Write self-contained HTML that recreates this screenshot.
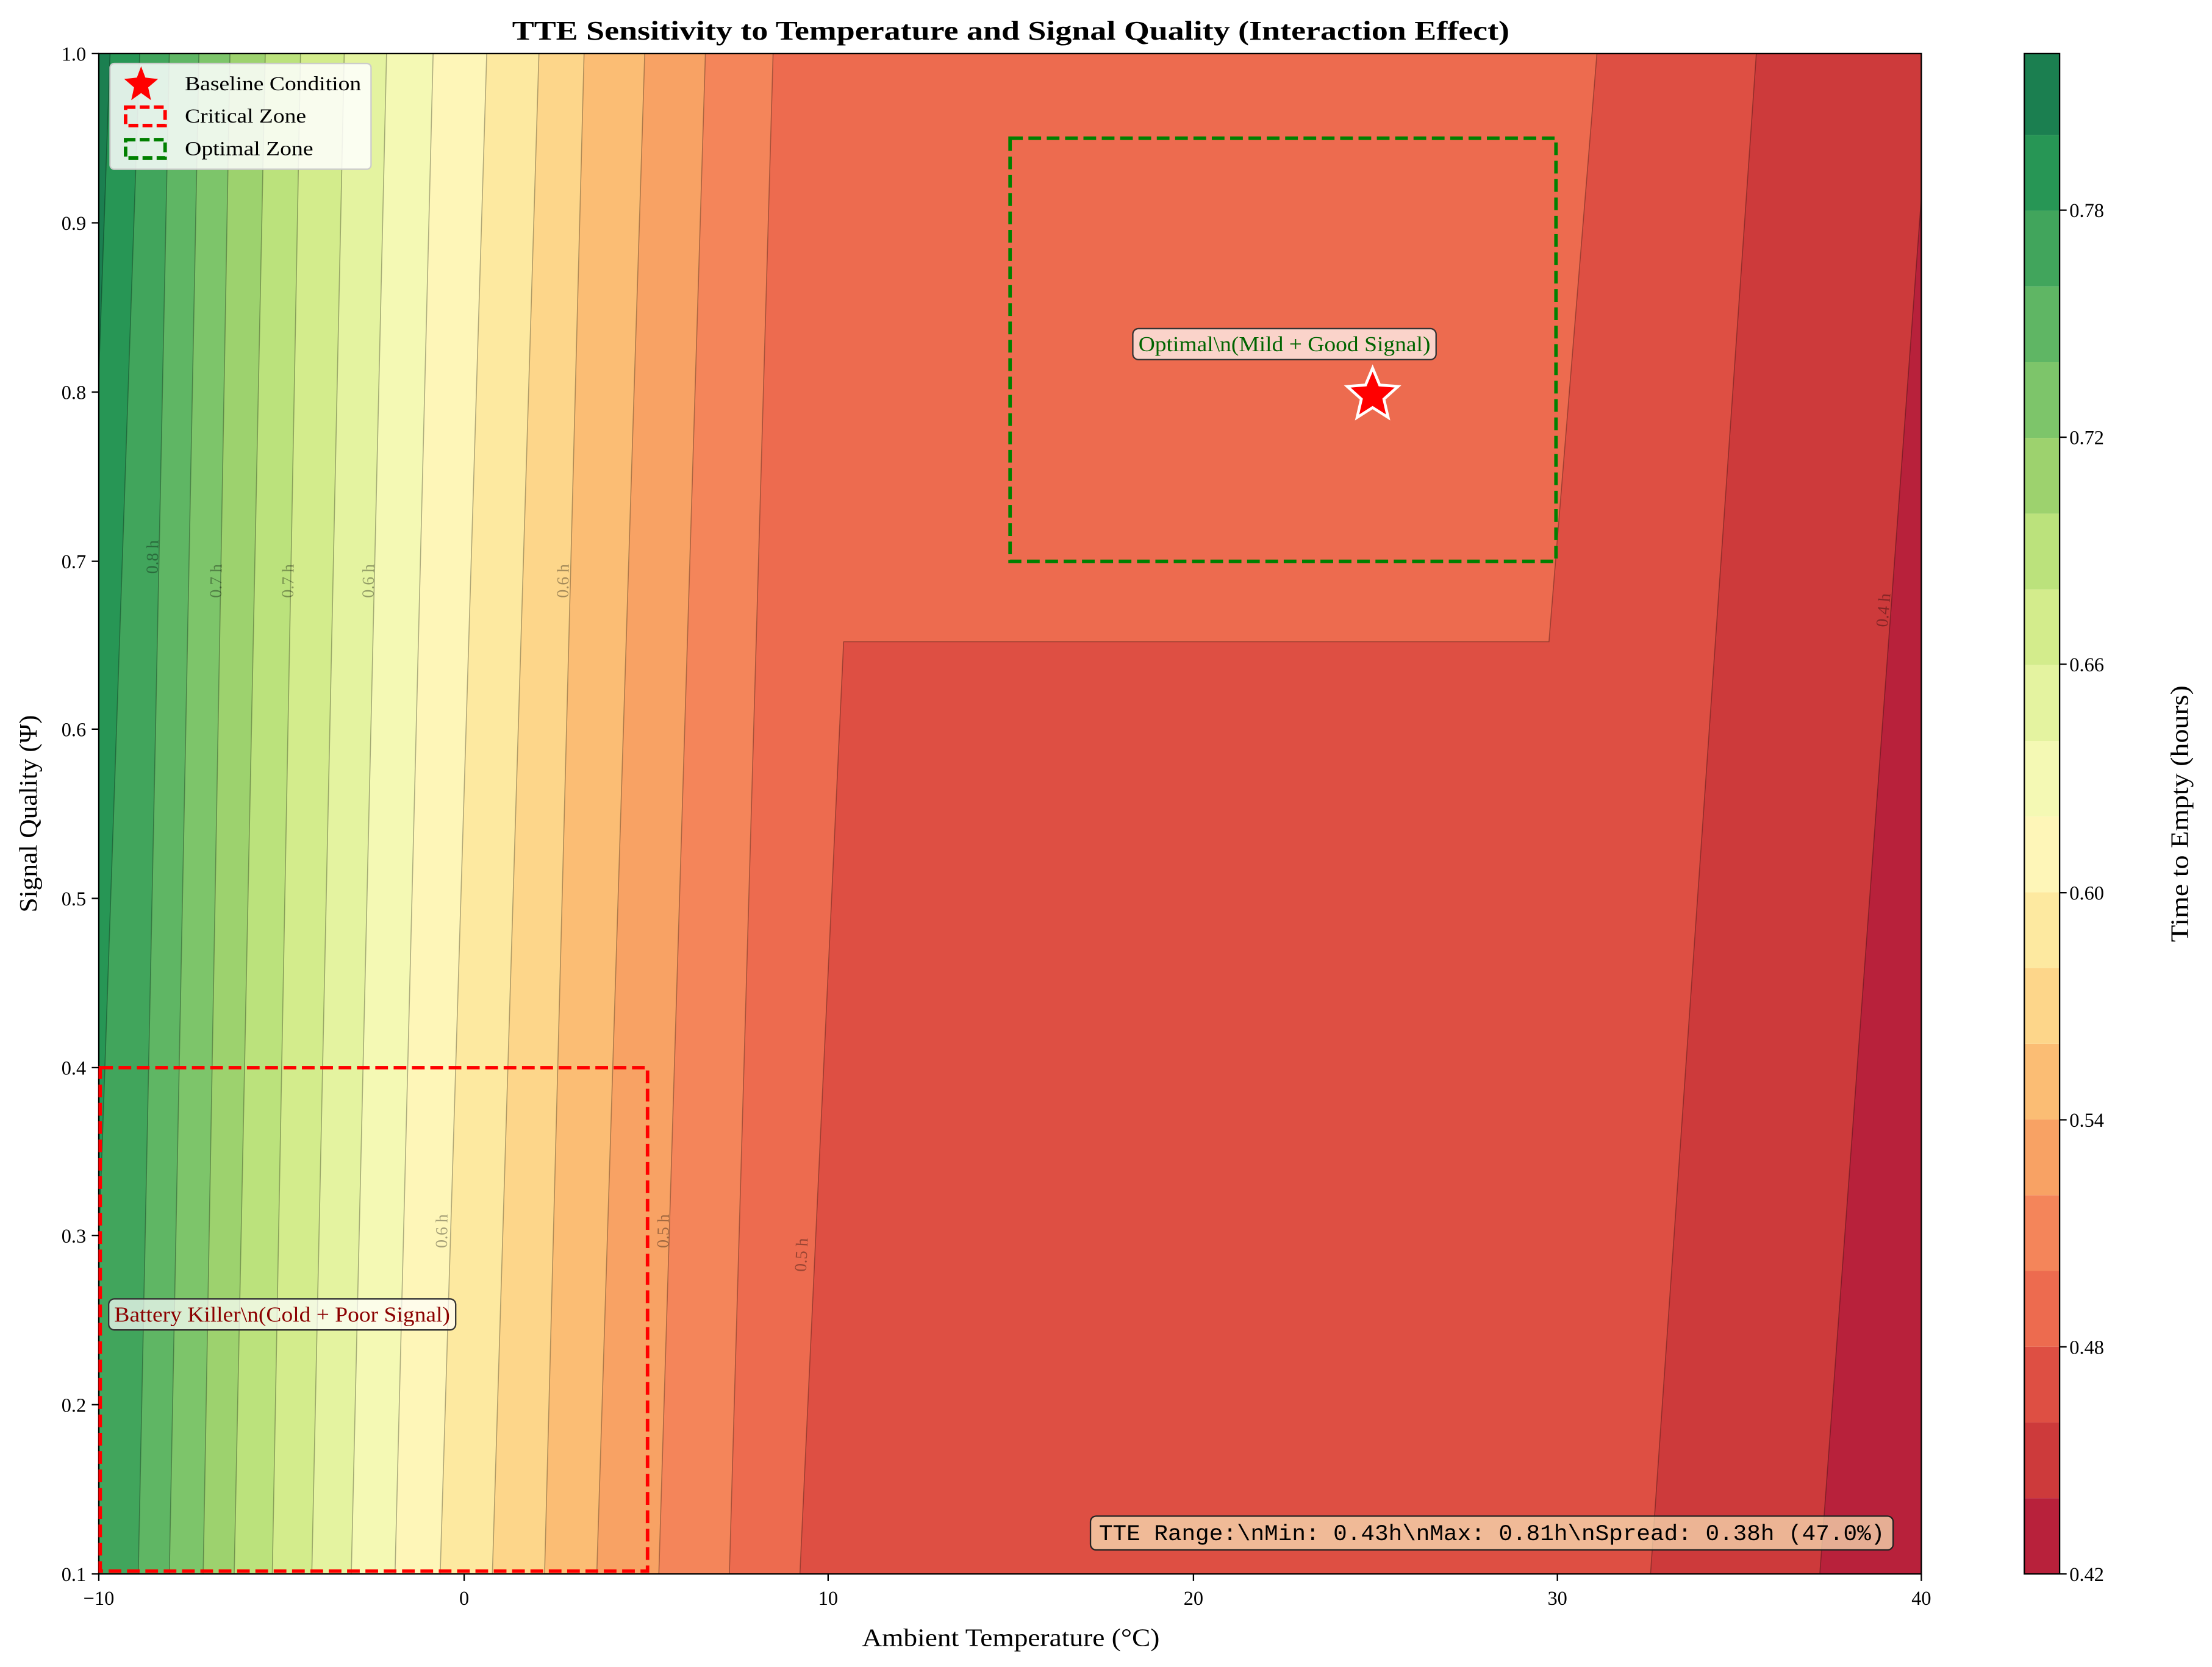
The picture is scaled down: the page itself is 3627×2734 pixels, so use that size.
<!DOCTYPE html>
<html><head><meta charset="utf-8"><style>html,body{margin:0;padding:0;background:#fff}svg{display:block}</style></head>
<body>
<svg width="3627" height="2734" viewBox="0 0 1568 1182" xmlns="http://www.w3.org/2000/svg" font-family="'Liberation Serif', serif">
<defs><clipPath id="pa"><rect x="70" y="38" width="1292" height="1078"/></clipPath></defs>
<rect width="1568" height="1182" fill="#fff"/>
<g clip-path="url(#pa)" stroke="#000" stroke-opacity="0.3" stroke-width="0.7">
<rect x="0" y="0" width="1400" height="1200" fill="#b8213b"/>
<polygon points="0,38 1362,38 1362,140 1290,1116 0,1116" fill="#cd3a3b"/>
<polygon points="0,38 1245,38 1170,1116 0,1116" fill="#de4f43"/>
<polygon points="0,38 1132,38 1098,455 598,455 567,1116 0,1116" fill="#ed6b4f"/>
<polygon points="0,38 548,38 517,1116 0,1116" fill="#f4855a"/>
<polygon points="0,38 500,38 467,1116 0,1116" fill="#f8a264"/>
<polygon points="0,38 457,38 423,1116 0,1116" fill="#fbbd74"/>
<polygon points="0,38 414,38 386,1116 0,1116" fill="#fdd68a"/>
<polygon points="0,38 382,38 349,1116 0,1116" fill="#fde9a0"/>
<polygon points="0,38 345,38 312,1116 0,1116" fill="#fef6b8"/>
<polygon points="0,38 307,38 280,1116 0,1116" fill="#f4f9b4"/>
<polygon points="0,38 274,38 249,1116 0,1116" fill="#e4f3a0"/>
<polygon points="0,38 244,38 221,1116 0,1116" fill="#d3ec8c"/>
<polygon points="0,38 213,38 193,1116 0,1116" fill="#bbe27c"/>
<polygon points="0,38 188,38 166,1116 0,1116" fill="#9dd26e"/>
<polygon points="0,38 163,38 144,1116 0,1116" fill="#7dc56a"/>
<polygon points="0,38 141,38 120,1116 0,1116" fill="#5fb664"/>
<polygon points="0,38 120,38 98,1116 0,1116" fill="#41a55c"/>
<polygon points="0,38 99,38 62,1116 0,1116" fill="#279655"/>
<polygon points="0,38 78,38 40,1116 0,1116" fill="#1b7f50"/>
</g>
<g font-size="12" fill="#000" fill-opacity="0.35">
<text transform="translate(112,395) rotate(-89)" text-anchor="middle">0.8 h</text>
<text transform="translate(157,412) rotate(-89)" text-anchor="middle">0.7 h</text>
<text transform="translate(208,412) rotate(-89)" text-anchor="middle">0.7 h</text>
<text transform="translate(265,412) rotate(-89)" text-anchor="middle">0.6 h</text>
<text transform="translate(403,412) rotate(-89)" text-anchor="middle">0.6 h</text>
<text transform="translate(317,873) rotate(-89)" text-anchor="middle">0.6 h</text>
<text transform="translate(474,873) rotate(-89)" text-anchor="middle">0.5 h</text>
<text transform="translate(572,890) rotate(-87)" text-anchor="middle">0.5 h</text>
<text transform="translate(1339,433) rotate(-85)" text-anchor="middle">0.4 h</text>
</g>
<rect x="70" y="38" width="1292" height="1078" fill="none" stroke="#000" stroke-width="1"/>
<rect x="71" y="757" width="388" height="357" fill="none" stroke="#f00" stroke-width="2.5" stroke-dasharray="9,4"/>
<rect x="716" y="98" width="387" height="300" fill="none" stroke="#008000" stroke-width="2.5" stroke-dasharray="9,4"/>
<polygon points="973,261 978,273 991,274 981,283 984,296 973,289 962,296 965,283 955,274 968,273" fill="#f00" stroke="#fff" stroke-width="2"/>
<rect x="803" y="233" width="215" height="22" rx="4" fill="#fff" fill-opacity="0.7" stroke="#333"/>
<text x="807" y="249" font-size="15" textLength="207" lengthAdjust="spacingAndGlyphs" fill="#006400">Optimal\n(Mild + Good Signal)</text>
<rect x="77" y="921" width="246" height="22" rx="4" fill="#fff" fill-opacity="0.7" stroke="#333"/>
<text x="81" y="937" font-size="15" textLength="238" lengthAdjust="spacingAndGlyphs" fill="#8b0000">Battery Killer\n(Cold + Poor Signal)</text>
<rect x="773" y="1075" width="569" height="24" rx="4" fill="#f5deb3" fill-opacity="0.75" stroke="#222"/>
<text x="779" y="1092" font-size="16" textLength="557" lengthAdjust="spacingAndGlyphs" font-family="'Liberation Mono', monospace">TTE Range:\nMin: 0.43h\nMax: 0.81h\nSpread: 0.38h (47.0%)</text>
<rect x="78" y="45" width="185" height="75" rx="3" fill="#fff" fill-opacity="0.85" stroke="#ccc"/>
<polygon points="100,47 103,55 112,56 105,62 107,71 100,66 93,71 95,62 88,56 97,55" fill="#f00"/>
<text x="131" y="64" font-size="14" textLength="125" lengthAdjust="spacingAndGlyphs">Baseline Condition</text>
<rect x="89" y="76" width="28" height="13" fill="none" stroke="#f00" stroke-width="2.5" stroke-dasharray="7,3"/>
<text x="131" y="87" font-size="14" textLength="86" lengthAdjust="spacingAndGlyphs">Critical Zone</text>
<rect x="89" y="99" width="28" height="13" fill="none" stroke="#008000" stroke-width="2.5" stroke-dasharray="7,3"/>
<text x="131" y="110" font-size="14" textLength="91" lengthAdjust="spacingAndGlyphs">Optimal Zone</text>
<g font-size="14" text-anchor="middle">
<line x1="70" y1="1116" x2="70" y2="1121" stroke="#000"/><text x="70" y="1138">−10</text>
<line x1="329" y1="1116" x2="329" y2="1121" stroke="#000"/><text x="329" y="1138">0</text>
<line x1="587" y1="1116" x2="587" y2="1121" stroke="#000"/><text x="587" y="1138">10</text>
<line x1="846" y1="1116" x2="846" y2="1121" stroke="#000"/><text x="846" y="1138">20</text>
<line x1="1104" y1="1116" x2="1104" y2="1121" stroke="#000"/><text x="1104" y="1138">30</text>
<line x1="1362" y1="1116" x2="1362" y2="1121" stroke="#000"/><text x="1362" y="1138">40</text>
</g>
<g stroke="#000">
<line x1="65" y1="1116" x2="70" y2="1116"/><line x1="65" y1="996" x2="70" y2="996"/><line x1="65" y1="876" x2="70" y2="876"/><line x1="65" y1="757" x2="70" y2="757"/><line x1="65" y1="637" x2="70" y2="637"/><line x1="65" y1="517" x2="70" y2="517"/><line x1="65" y1="398" x2="70" y2="398"/><line x1="65" y1="278" x2="70" y2="278"/><line x1="65" y1="158" x2="70" y2="158"/><line x1="65" y1="38" x2="70" y2="38"/>
</g>
<g font-size="14" text-anchor="end">
<text x="61" y="1121">0.1</text><text x="61" y="1001">0.2</text><text x="61" y="881">0.3</text><text x="61" y="762">0.4</text><text x="61" y="642">0.5</text><text x="61" y="522">0.6</text><text x="61" y="403">0.7</text><text x="61" y="283">0.8</text><text x="61" y="163">0.9</text><text x="61" y="43">1.0</text>
</g>
<text x="611" y="1167" font-size="18" textLength="211" lengthAdjust="spacingAndGlyphs">Ambient Temperature (°C)</text>
<text transform="translate(26,647) rotate(-90)" font-size="18" textLength="140" lengthAdjust="spacingAndGlyphs">Signal Quality (Ψ)</text>
<text x="363" y="28" font-size="19" font-weight="bold" textLength="707" lengthAdjust="spacingAndGlyphs">TTE Sensitivity to Temperature and Signal Quality (Interaction Effect)</text>
<g>
<rect x="1435" y="1062.3" width="25" height="53.7" fill="#b8213b"/>
<rect x="1435" y="1008.6" width="25" height="53.7" fill="#cd3a3b"/>
<rect x="1435" y="954.9" width="25" height="53.7" fill="#de4f43"/>
<rect x="1435" y="901.2" width="25" height="53.7" fill="#ed6b4f"/>
<rect x="1435" y="847.5" width="25" height="53.7" fill="#f4855a"/>
<rect x="1435" y="793.8" width="25" height="53.7" fill="#f8a264"/>
<rect x="1435" y="740.1" width="25" height="53.7" fill="#fbbd74"/>
<rect x="1435" y="686.4" width="25" height="53.7" fill="#fdd68a"/>
<rect x="1435" y="632.7" width="25" height="53.7" fill="#fde9a0"/>
<rect x="1435" y="579" width="25" height="53.7" fill="#fef6b8"/>
<rect x="1435" y="525.3" width="25" height="53.7" fill="#f4f9b4"/>
<rect x="1435" y="471.6" width="25" height="53.7" fill="#e4f3a0"/>
<rect x="1435" y="417.9" width="25" height="53.7" fill="#d3ec8c"/>
<rect x="1435" y="364.2" width="25" height="53.7" fill="#bbe27c"/>
<rect x="1435" y="310.5" width="25" height="53.7" fill="#9dd26e"/>
<rect x="1435" y="256.8" width="25" height="53.7" fill="#7dc56a"/>
<rect x="1435" y="203.1" width="25" height="53.7" fill="#5fb664"/>
<rect x="1435" y="149.4" width="25" height="53.7" fill="#41a55c"/>
<rect x="1435" y="95.7" width="25" height="53.7" fill="#279655"/>
<rect x="1435" y="38" width="25" height="57.7" fill="#1b7f50"/>
<rect x="1435" y="38" width="25" height="1078" fill="none" stroke="#000"/>
</g>
<g stroke="#000">
<line x1="1460" y1="1116" x2="1465" y2="1116"/><line x1="1460" y1="955" x2="1465" y2="955"/><line x1="1460" y1="794" x2="1465" y2="794"/><line x1="1460" y1="633" x2="1465" y2="633"/><line x1="1460" y1="471" x2="1465" y2="471"/><line x1="1460" y1="310" x2="1465" y2="310"/><line x1="1460" y1="149" x2="1465" y2="149"/>
</g>
<g font-size="14">
<text x="1467" y="1121">0.42</text><text x="1467" y="960">0.48</text><text x="1467" y="799">0.54</text><text x="1467" y="638">0.60</text><text x="1467" y="476">0.66</text><text x="1467" y="315">0.72</text><text x="1467" y="154">0.78</text>
</g>
<text transform="translate(1551,668) rotate(-90)" font-size="18" textLength="182" lengthAdjust="spacingAndGlyphs">Time to Empty (hours)</text>
</svg>
</body></html>
